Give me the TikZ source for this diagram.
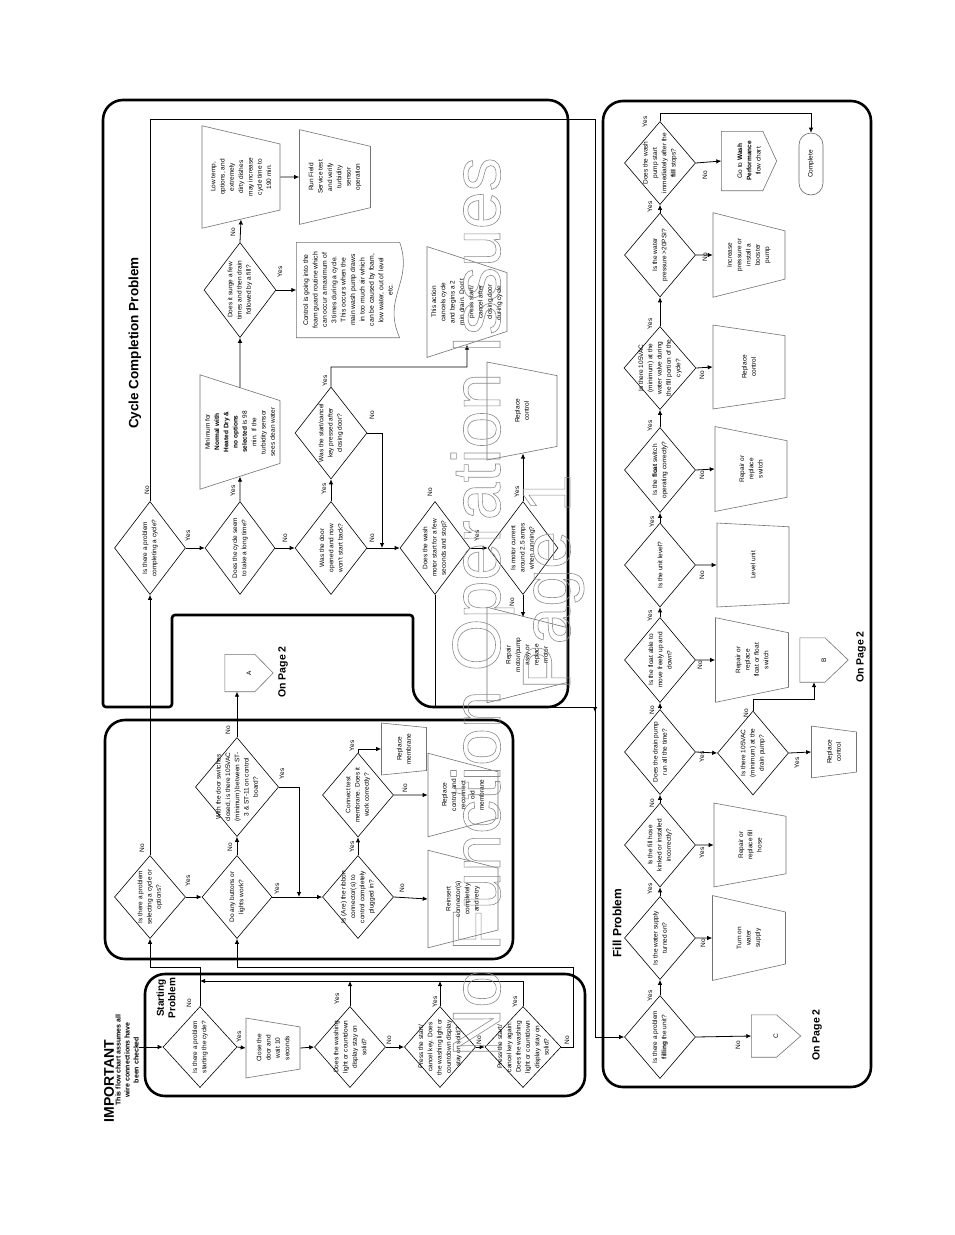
\documentclass[tikz,border=0pt]{standalone}
\usepackage{fontspec}
\setmainfont{Liberation Sans}
\usetikzlibrary{arrows.meta,positioning,calc,shapes.geometric}
\newcommand{\flowfont}{\fontsize{6.5}{9.3}\selectfont}
\newcommand{\outlinetext}{\special{pdf:literal direct 1 Tr 0.6 w}}
% outline of an off-page connector, pointing to the page right
\newcommand{\offpageoutline}[2]{%
	\draw[draw=black!55, line width=0.6pt] (#1.north east)
	-- ($(#1.north east)!#2!(#1.south east)$) -- (#1.south)
	-- ($(#1.north west)!#2!(#1.south west)$) -- (#1.north west) -- cycle;}
\tikzset{
	decision/.style={diamond, draw, rotate=90, align=center, inner sep=-7pt,
		line width=0.6pt, minimum width=83pt, minimum height=71pt, font=\flowfont},
	manual/.style={trapezium, trapezium left angle=#1, trapezium right angle=#1,
		trapezium stretches=true, draw=black!55, rotate=90, align=center,
		inner sep=0pt, line width=0.6pt, font=\flowfont},
	manual/.default=106,
	offpage/.style={rectangle, rotate=90, align=center, inner sep=0pt, font=\flowfont},
	terminal/.style={rectangle, rounded corners=12pt, draw=black!60, rotate=90,
		inner sep=0pt, line width=0.6pt, font=\flowfont},
	lbl/.style={rotate=90, inner sep=0pt, font=\flowfont},
	arrow/.style={-{Latex[length=5pt,width=4.5pt]}, line width=0.8pt},
	secbox/.style={draw, line width=2.6pt, rounded corners=20pt},
	heading/.style={rotate=90, align=center, inner sep=0pt},
	wmark/.style={rotate=90, anchor=base west, inner sep=0pt, text=black!45,
		font=\fontsize{68}{68}\selectfont}
}

\begin{document}
\begin{tikzpicture}[x=1pt, y=-1pt]
	\useasboundingbox (0,0) rectangle (954,1235);
	\fill[white] (0,0) rectangle (954,1235);
	
	%% -- section frames
	\draw[secbox] (145,974) rectangle (585,1096);
	\draw[secbox] (105,720) rectangle (513,959);
	\draw[secbox] (603,101) rectangle (871,1087);
	\draw[secbox] (103,400) -- (103,100) -- (568,100) -- (568,707) -- (413,707)
	[rounded corners=3pt] -- (413,615) -- (172,615) -- (172,707) -- (103,707)
	[rounded corners=18pt] -- cycle;
	
	%% -- headings
	\node[heading, font=\bfseries\fontsize{14}{15}\selectfont] (imp) at (109,1081) {IMPORTANT};
	\node[heading, font=\bfseries\fontsize{7}{9}\selectfont] (impnote) at (127,1060)
	{This flow chart assumes all\\wire connections have\\been checked};
	\node[heading, font=\bfseries\fontsize{10}{11.5}\selectfont] (tstart) at (166,998) {Starting\\Problem};
	\node[heading, font=\bfseries\fontsize{13.5}{15}\selectfont] (tcycle) at (135,343) {Cycle Completion Problem};
	\node[heading, font=\bfseries\fontsize{12}{13}\selectfont] (tfill) at (617,923) {Fill Problem};
	\node[heading, font=\bfseries\fontsize{10.5}{12}\selectfont] (pgA) at (283,672) {On Page 2};
	\node[heading, font=\bfseries\fontsize{10.5}{12}\selectfont] (pgB) at (861,657) {On Page 2};
	\node[heading, font=\bfseries\fontsize{10.5}{12}\selectfont] (pgC) at (817,1035) {On Page 2};
	
	%% -- Starting problem
	\node[decision, minimum width=81pt, minimum height=74pt] (s1) at (200,1047)
	{Is there a problem\\starting the cycle?};
	\node[manual=100, minimum width=60pt, minimum height=54pt] (s2) at (273,1048)
	{Close the\\door and\\wait 10\\seconds};
	\node[decision, minimum width=81pt] (s3) at (350,1047)
	{Does the washing\\light or countdown\\display stay on\\solid?};
	\node[decision, minimum width=81pt, minimum height=70pt] (s4) at (440,1047)
	{Press the start/\\cancel key.  Does\\the washing light or\\countdown display\\stay on solid?};
	\node[decision, minimum width=81pt, minimum height=70pt] (s5) at (523,1047)
	{Press the start/\\cancel key again.\\Does the washing\\light or countdown\\display stay on\\solid?};
	
	%% -- Selecting problem
	\node[decision] (p1) at (150,897) {Is there a problem\\selecting a cycle or\\options?};
	\node[decision, minimum height=70pt] (p2) at (237,897) {Do any buttons or\\lights work?};
	\node[decision, minimum width=99pt, minimum height=82pt] (p3) at (237,787)
	{With the door switches\\closed, is there 105VAC\\(minimum) between ST-\\3 \& ST-11 on control\\board?};
	\node[decision] (p4) at (358,897) {Is (Are) the ribbon\\connector(s) to\\control completely\\plugged in?};
	\node[decision, minimum width=84pt] (p5) at (358,795) {Connect test\\membrane.  Does it\\work correctly?};
	\node[manual=107, minimum width=98pt, minimum height=70pt] (p6) at (463,899)
	{Reinsert\\connector(s)\\completely\\and retry};
	\node[manual=107, minimum width=84pt, minimum height=70pt] (p7) at (463,795)
	{Replace\\control and\\reconnect\\old\\membrane};
	\node[manual=103, minimum width=52pt, minimum height=45pt] (p8) at (404,749) {Replace\\membrane};
	\node[offpage, minimum width=37pt, minimum height=48pt] (conA) at (249,673) {A};
	\offpageoutline{conA}{0.62}
	
	%% -- Cycle completion problem
	\node[decision, minimum width=93pt] (c1) at (150,548) {Is there a problem\\completing a cycle?};
	\node[decision, minimum width=93pt, minimum height=70pt] (c2) at (240,548)
	{Does the cycle seem\\to take a long time?};
	\node[decision, minimum width=93pt, minimum height=72pt] (c3) at (331,548)
	{Was the door\\opened and now\\won't start back?};
	\node[decision, minimum width=93pt, minimum height=70pt] (c4) at (435,548)
	{Does the wash\\motor start for a few\\seconds and stop?};
	\node[decision, minimum width=93pt, minimum height=70pt] (c5) at (523,548)
	{Is motor current\\around 2.5 amps\\when running?};
	\node[decision, minimum width=92pt, minimum height=72pt] (c6) at (331,433)
	{Was the start/cancel\\key pressed after\\closing door?};
	\node[manual=106, minimum width=115pt, minimum height=80pt] (c7) at (240,432)
	{Minimum for\\\textbf{Normal with}\\\textbf{Heated Dry \&}\\\textbf{no options}\\\textbf{selected} is 98\\min. If the\\turbidity sensor\\sees clean water};
	\node[decision, minimum width=95pt, minimum height=72pt] (c8) at (240,290)
	{Does it surge a few\\times and then drain\\followed by a fill?};
	\node[manual=100, minimum width=103pt, minimum height=78pt] (c9) at (241,177)
	{Low temp,\\options, and\\extremely\\dirty dishes\\may increase\\cycle time to\\190 min.};
	\node[manual=100, minimum width=95pt, minimum height=71pt] (c10) at (335,177)
	{Run Field\\Service test\\and verify\\turbidity\\sensor\\operation};
	\node[rotate=90, align=center, inner sep=0pt, minimum width=95pt, minimum height=103pt,
	font=\fontsize{6.8}{9.4}\selectfont] (c11) at (348,290)
	{Control is going into the\\foam guard routine which\\can occur a maximum of\\3 times during a cycle.\\This occurs when the\\main wash pump draws\\in too much air which\\can be caused by foam,\\low water, out of level\\etc.};
	\draw[draw=black!55, line width=0.6pt] (c11.south west) -- (c11.north west) -- (c11.north east)
	-- (c11.south east) .. controls ($(c11.south east)+(14,40)$) and ($(c11.south west)+(-18,-40)$) .. (c11.south west);
	\node[manual=106, minimum width=111pt, minimum height=80pt] (c12) at (467,302)
	{This action\\cancels cycle\\and begins a 2\\min drain.  Don't\\press start/\\cancel after\\closing door\\during cycle.};
	\node[manual=108, minimum width=98pt, minimum height=70pt] (c13) at (522,411) {Replace\\control};
	\node[manual=107, minimum width=96pt, minimum height=80pt] (c14) at (527,655)
	{Repair\\motor/pump\\assy or\\replace\\motor};
	
	%% -- Fill problem
	\node[decision] (f1) at (660,1037) {Is there a problem\\\textbf{filling} the unit?};
	\node[decision] (f2) at (660,938) {Is the water supply\\turned on?};
	\node[manual, minimum width=85pt, minimum height=73pt] (f3) at (749,938) {Turn on\\water\\supply};
	\node[decision, minimum width=84pt] (f4) at (660,845) {Is the fill hose\\kinked or installed\\incorrectly?};
	\node[manual, minimum width=84pt, minimum height=72pt] (f5) at (750,845) {Repair or\\replace fill\\hose};
	\node[decision, minimum width=85pt] (f6) at (660,752) {Does the drain pump\\run all the time?};
	\node[decision, minimum width=84pt] (f7) at (753,753) {Is there 105VAC\\(minimum) at the\\drain pump?};
	\node[manual=104, minimum width=52pt, minimum height=45pt] (f8) at (834,752) {Replace\\control};
	\node[offpage, minimum width=44pt, minimum height=48pt] (conB) at (824,660) {B};
	\offpageoutline{conB}{0.52}
	\node[decision, minimum width=85pt] (f9) at (660,660) {Is the float able to\\move freely up and\\down?};
	\node[manual, minimum width=85pt, minimum height=73pt] (f10) at (752,660)
	{Repair or\\replace\\float or float\\switch};
	\node[decision, minimum width=84pt] (f11) at (660,565) {Is the unit level?};
	\node[manual, minimum width=84pt, minimum height=72pt] (f12) at (753,565) {Level unit};
	\node[decision, minimum width=85pt] (f13) at (660,470) {Is the \textbf{float} switch\\operating correctly?};
	\node[manual, minimum width=85pt, minimum height=72pt] (f14) at (751,469) {Repair or\\replace\\switch};
	\node[decision] (f15) at (660,368)
	{Is there 105VAC\\(minimum) at the\\water valve during\\the fill portion of the\\cycle?};
	\node[manual, minimum width=84pt, minimum height=72pt] (f16) at (749,367) {Replace\\control};
	\node[decision, minimum width=84pt] (f17) at (660,255) {Is the water\\pressure >20PSI?};
	\node[manual, minimum width=85pt, minimum height=72pt] (f18) at (749,255)
	{Increase\\pressure or\\install a\\booster\\pump};
	\node[decision] (f19) at (660,163) {Does the wash\\pump start\\immediately after the\\\textbf{fill} stops?};
	\node[offpage, minimum width=59pt, minimum height=55pt, xshift=-4pt] (conW) at (749,157)
	{Go to \textbf{Wash}\\\textbf{Performance}\\flow chart};
	\offpageoutline{conW}{0.75}
	\node[terminal, minimum width=62pt, minimum height=24pt] (fin) at (811,164) {Complete};
	\node[offpage, minimum width=42pt, minimum height=49pt] (conC) at (776,1036) {C};
	\offpageoutline{conC}{0.51}
	
	%% -- junction points
	\coordinate (jA) at (150,967);
	\coordinate (jB) at (200,981);
	\coordinate (jC) at (573,967);
	\coordinate (jD) at (299,897);
	\coordinate (jE) at (595,119);
	\coordinate (jF) at (595,1037);
	\coordinate (jG) at (595,707);
	\coordinate (jH) at (382,548);
	\coordinate (jI) at (467,367);
	\coordinate (jJ) at (814,699);
	\coordinate (jK) at (811,113);
	
	%% -- Starting flow
	\draw[arrow] (impnote.south |- s1.north) -- (s1.north);
	\draw[arrow] (s1.south) -- (s2.north);
	\draw[arrow] (s2.south) -- (s3.north);
	\draw[arrow] (s3.south) -- (s4.north);
	\draw[arrow] (s4.south) -- (s5.north);
	\draw[arrow] (s1.east) |- (jA) -- (p1.west);
	\draw[arrow] (s3.east) -- (s3.east |- jB);
	\draw[arrow] (s4.east) -- (s4.east |- jB);
	\draw[arrow] (s5.east) |- (jB);
	\draw[arrow] (s5.south) -| (jC) -| (p2.west);
	
	%% -- Selecting flow
	\draw[arrow] (p1.south) -- (p2.north);
	\draw[arrow] (p1.east) -- (c1.west);
	\draw[arrow] (p2.east) -- (p3.west);
	\draw[arrow] (p3.east) -- (p3.east |- conA.west);
	\draw[arrow] (p3.south) -| (jD);
	\draw[arrow] (p2.south) -- (p4.north);
	\draw[arrow] (p4.south) -- (p6.north);
	\draw[arrow] (p4.east) -- (p5.west);
	\draw[arrow] (p5.south) -- (p7.north);
	\draw[arrow] (p5.east) |- (p8.north);
	
	%% -- Cycle flow
	\draw[arrow] (c1.south) -- (c2.north);
	\draw[arrow] (c1.east) |- (jE) -- (jF) -- (f1.north);
	\draw[arrow] (c4.west) |- (jG) -- ++(0,5);
	\draw[arrow] (c2.south) -- (c3.north);
	\draw[arrow] (c2.east) -- (c7.west);
	\draw[arrow] (c7.east) -- (c8.west);
	\draw[arrow] (c8.east) -- (c9.west);
	\draw[arrow] (c8.south) -- (c11.north);
	\draw[arrow] (c9.south) -- (c10.north);
	\draw[arrow] (c3.south) -- (c4.north);
	\draw[arrow] (c3.east) -- (c6.west);
	\draw[arrow] (c6.south) -| (jH);
	\draw[arrow] (c6.east) |- (jI) -- (c12.west);
	\draw[arrow] (c4.south) -- (c5.north);
	\draw[arrow] (c5.east) -- (c5.east |- c13.west);
	\draw[arrow] (c5.west) -- (c5.west |- c14.east);
	
	%% -- Fill flow
	\draw[arrow] (f1.east) -- (f2.west);
	\draw[arrow] (f1.south) -- (conC.north);
	\draw[arrow] (f2.south) -- (f3.north);
	\draw[arrow] (f2.east) -- (f4.west);
	\draw[arrow] (f4.south) -- (f5.north);
	\draw[arrow] (f4.east) -- (f6.west);
	\draw[arrow] (f6.south) -- (f7.north);
	\draw[arrow] (f6.east) -- (f9.west);
	\draw[arrow] (f7.south) -- (f8.north);
	\draw[arrow] (f7.east) |- (jJ) -- (jJ |- conB.west);
	\draw[arrow] (f9.south) -- (f10.north);
	\draw[arrow] (f9.east) -- (f11.west);
	\draw[arrow] (f11.south) -- (f12.north);
	\draw[arrow] (f11.east) -- (f13.west);
	\draw[arrow] (f13.south) -- (f14.north);
	\draw[arrow] (f13.east) -- (f15.west);
	\draw[arrow] (f15.south) -- (f16.north);
	\draw[arrow] (f15.east) -- (f17.west);
	\draw[arrow] (f17.south) -- (f18.north);
	\draw[arrow] (f17.east) -- (f19.west);
	\draw[arrow] (f19.south) -- (conW.north);
	\draw[arrow] (f19.east) |- (jK) -- (fin.east);
	
	%% -- Yes / No labels
	\node[lbl] (ls1y) at (239,1037) {Yes};
	\node[lbl] (ls1n) at (189,1003) {No};
	\node[lbl] (ls3y) at (337,999) {Yes};
	\node[lbl] (ls3n) at (389,1040) {No};
	\node[lbl] (ls4y) at (435,1002) {Yes};
	\node[lbl] (ls4n) at (479,1040) {No};
	\node[lbl] (ls5y) at (515,1002) {Yes};
	\node[lbl] (ls5n) at (567,1040) {No};
	\node[lbl] (lp1n) at (142,848) {No};
	\node[lbl] (lp1y) at (188,881) {Yes};
	\node[lbl] (lp2n) at (230,847) {No};
	\node[lbl] (lp2y) at (277,889) {Yes};
	\node[lbl] (lp3n) at (228,730) {No};
	\node[lbl] (lp3y) at (282,774) {Yes};
	\node[lbl] (lp4y) at (352,847) {Yes};
	\node[lbl] (lp4n) at (402,888) {No};
	\node[lbl] (lp5n) at (405,788) {No};
	\node[lbl] (lp5y) at (352,746) {Yes};
	\node[lbl] (lc1n) at (147,490) {No};
	\node[lbl] (lc1y) at (188,536) {Yes};
	\node[lbl] (lc2y) at (233,491) {Yes};
	\node[lbl] (lc2n) at (285,538) {No};
	\node[lbl] (lc3y) at (324,489) {Yes};
	\node[lbl] (lc3n) at (372,538) {No};
	\node[lbl] (lc6y) at (325,381) {Yes};
	\node[lbl] (lc6n) at (372,415) {No};
	\node[lbl] (lc4n) at (430,492) {No};
	\node[lbl] (lc4y) at (477,536) {Yes};
	\node[lbl] (lc5y) at (517,492) {Yes};
	\node[lbl] (lc5n) at (512,602) {No};
	\node[lbl] (lc8n) at (233,232) {No};
	\node[lbl] (lc8y) at (280,272) {Yes};
	\node[lbl] (lf1y) at (650,996) {Yes};
	\node[lbl] (lf1n) at (738,1045) {No};
	\node[lbl] (lf2n) at (703,943) {No};
	\node[lbl] (lf2y) at (650,889) {Yes};
	\node[lbl] (lf4y) at (702,853) {Yes};
	\node[lbl] (lf4n) at (652,803) {No};
	\node[lbl] (lf6y) at (702,757) {Yes};
	\node[lbl] (lf6n) at (652,710) {No};
	\node[lbl] (lf7y) at (797,763) {Yes};
	\node[lbl] (lf7n) at (746,713) {No};
	\node[lbl] (lf9n) at (700,665) {No};
	\node[lbl] (lf9y) at (650,616) {Yes};
	\node[lbl] (lf11n) at (702,575) {No};
	\node[lbl] (lf11y) at (652,522) {Yes};
	\node[lbl] (lf13n) at (702,475) {No};
	\node[lbl] (lf13y) at (650,426) {Yes};
	\node[lbl] (lf15n) at (702,375) {No};
	\node[lbl] (lf15y) at (650,324) {Yes};
	\node[lbl] (lf17n) at (705,257) {No};
	\node[lbl] (lf17y) at (650,207) {Yes};
	\node[lbl] (lf19n) at (705,175) {No};
	\node[lbl] (lf19y) at (645,122) {Yes};
	
	%% -- watermark
	\node[wmark] (wm1) at (500,1057) {\outlinetext No Function Operation Issues};
	\node[wmark] (wm2) at (570,690) {\outlinetext Page 1};
	
\end{tikzpicture}
\end{document}
